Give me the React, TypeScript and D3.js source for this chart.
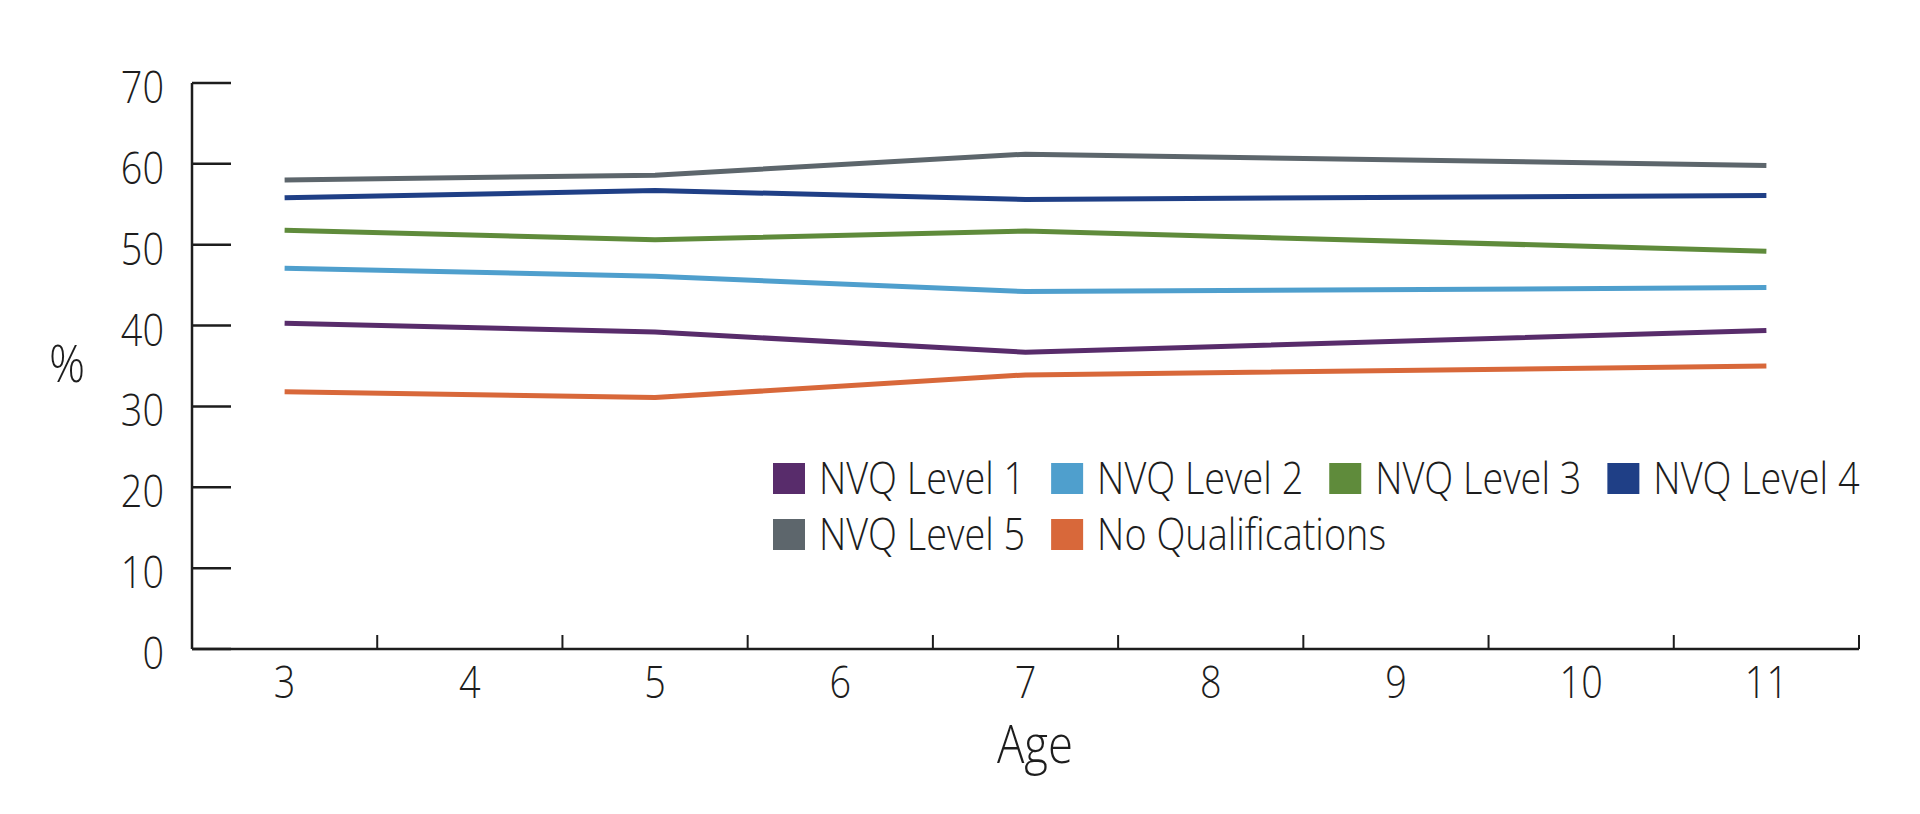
import React, { useEffect, useRef } from 'react';
import * as d3 from 'd3';

const ages = [3, 4, 5, 6, 7, 8, 9, 10, 11];
const surveyAges = [3, 5, 7, 11];
const yTicks = [0, 10, 20, 30, 40, 50, 60, 70];

const seriesNames = ['NVQ Level 1', 'NVQ Level 2', 'NVQ Level 3', 'NVQ Level 4', 'NVQ Level 5', 'No Qualifications'];
const seriesColors = ['#582c6b', '#4f9fcd', '#5f8b3b', '#1f3f86', '#5d666c', '#d8683a'];

const nvq1 = [40.3, 39.2, 36.7, 39.4];
const nvq2 = [47.1, 46.1, 44.2, 44.7];
const nvq3 = [51.8, 50.6, 51.7, 49.2];
const nvq4 = [55.8, 56.7, 55.6, 56.1];
const nvq5 = [58.0, 58.6, 61.2, 59.8];
const noQual = [31.8, 31.1, 33.9, 35.0];

const seriesValues = [nvq1, nvq2, nvq3, nvq4, nvq5, noQual];

const FONT = '"Open Sans", sans-serif';
const SQUEEZE = 0.86;
const INK = '#1d1d1d';

const Chart: React.FC = () => {
  const ref = useRef<SVGSVGElement>(null);

  useEffect(() => {
    if (!ref.current) return;
    const svg = d3.select(ref.current);
    svg.selectAll('*').remove();

    const left = 192, right = 1859, top = 83, bottom = 649;

    const x = d3.scaleBand<number>().domain(ages).range([left, right]);
    const y = d3.scaleLinear().domain([0, 70]).range([bottom, top]);

    const txt = (g: d3.Selection<any, any, any, any>, tx: number, ty: number, s: string, size: number, anchor: string) =>
      g.append('text')
        .attr('transform', `translate(${tx},${ty}) scale(${SQUEEZE},1)`)
        .attr('text-anchor', anchor)
        .style('font-family', FONT)
        .style('font-weight', 300)
        .style('font-size', `${size}px`)
        .attr('fill', INK)
        .text(s);

    // y axis
    const ya = svg.append('g');
    ya.append('line').attr('x1', left).attr('x2', left).attr('y1', top).attr('y2', bottom)
      .attr('stroke', INK).attr('stroke-width', 2.5);
    yTicks.forEach(t => {
      ya.append('line').attr('x1', left).attr('x2', left + 39).attr('y1', y(t)).attr('y2', y(t))
        .attr('stroke', INK).attr('stroke-width', 2.5);
      txt(ya, 164, y(t) + 20, String(t), 44, 'end');
    });
    txt(ya, 67, 382, '%', 52, 'middle');

    // x axis
    const xa = svg.append('g');
    xa.append('line').attr('x1', left).attr('x2', right).attr('y1', bottom).attr('y2', bottom)
      .attr('stroke', INK).attr('stroke-width', 2.5);
    ages.forEach(a => {
      const bx = (x(a) || 0) + x.bandwidth();
      xa.append('line').attr('x1', bx).attr('x2', bx).attr('y1', bottom).attr('y2', bottom - 14)
        .attr('stroke', INK).attr('stroke-width', 2);
      txt(xa, (x(a) || 0) + x.bandwidth() / 2, 698, String(a), 44, 'middle');
    });
    txt(xa, 1035, 763, 'Age', 53, 'middle');

    // lines
    const line = d3.line<number>()
      .x((_, i) => (x(surveyAges[i]) || 0) + x.bandwidth() / 2)
      .y(d => y(d));

    const drawOrder = [5, 0, 1, 2, 3, 4];
    drawOrder.forEach(si => {
      svg.append('path')
        .datum(seriesValues[si])
        .attr('d', line)
        .attr('fill', 'none')
        .attr('stroke', seriesColors[si])
        .attr('stroke-width', 5)
        .attr('stroke-linejoin', 'round');
    });

    // legend (flow layout, 4 per row)
    const lg = svg.append('g');
    const rowY = [478, 534];
    let cx = 773;
    seriesNames.forEach((name, i) => {
      const row = Math.floor(i / 4);
      if (i % 4 === 0) cx = 773;
      lg.append('rect').attr('x', cx).attr('y', rowY[row] - 15).attr('width', 32).attr('height', 31)
        .attr('fill', seriesColors[i]);
      const t = txt(lg, cx + 46, rowY[row] + 16, name, 44, 'start');
      const w = (t.node() as SVGTextElement).getComputedTextLength() * SQUEEZE;
      cx += 46 + w + 26;
    });
  }, []);

  return <svg ref={ref} width={1920} height={814} style={{ display: 'block', background: '#fff' }} />;
};

export default function App() {
  return (
    <div style={{ margin: -8 }}>
      <Chart />
    </div>
  );
}
